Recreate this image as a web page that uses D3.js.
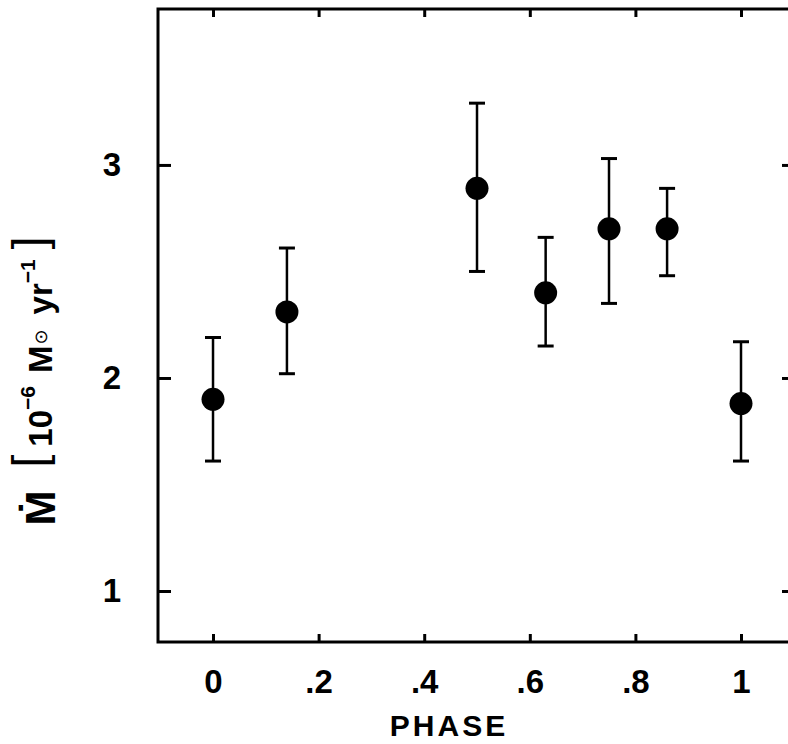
<!DOCTYPE html>
<html>
<head>
<meta charset="utf-8">
<script src="https://cdn.jsdelivr.net/npm/d3@7"></script>
<style>
  html, body { margin: 0; padding: 0; background: #fff; }
  svg { display: block; }
  text { font-family: "Liberation Sans", Arial, Helvetica, sans-serif; font-weight: bold; fill: #000; }
</style>
</head>
<body>
<script>
// ---- data ----
const phase  = [0, 0.14, 0.5, 0.63, 0.75, 0.86, 1.0];
const mdot   = [1.90, 2.31, 2.89, 2.40, 2.70, 2.70, 1.88];
const errHi  = [2.19, 2.61, 3.29, 2.66, 3.03, 2.89, 2.17];
const errLo  = [1.61, 2.02, 2.50, 2.15, 2.35, 2.48, 1.61];
const xTicks = [0, 0.2, 0.4, 0.6, 0.8, 1];
const xTickLabels = ["0", ".2", ".4", ".6", ".8", "1"];
const yTicks = [1, 2, 3];
const xTitle = "PHASE";

// ---- layout ----
const W = 788, H = 744;
const pLeft = 158, pRight = 790, pTop = 9, pBottom = 642;

const svg = d3.select("body").append("svg").attr("width", W).attr("height", H);

const x = d3.scaleLinear().domain([-0.1042, 1.0928]).range([pLeft, pRight]);
const y = d3.scaleLinear().domain([0.7606, 3.732]).range([pBottom, pTop]);

// frame
svg.append("rect")
  .attr("x", pLeft).attr("y", pTop)
  .attr("width", pRight - pLeft).attr("height", pBottom - pTop)
  .attr("fill", "none").attr("stroke", "#000").attr("stroke-width", 3);

function styleAxis(g) {
  g.attr("font-size", 33).attr("font-family", "'Liberation Sans', Arial, sans-serif");
  g.select(".domain").remove();
  g.selectAll(".tick line").attr("stroke", "#000").attr("stroke-width", 3);
  g.selectAll(".tick text").style("font-size", "33px").style("font-weight", "bold").attr("fill", "#000");
}

// bottom axis
svg.append("g").attr("transform", `translate(0,${pBottom})`)
  .call(d3.axisBottom(x).tickValues(xTicks)
    .tickFormat((d, i) => xTickLabels[i])
    .tickSizeInner(-8).tickSizeOuter(0).tickPadding(28))
  .call(styleAxis);

// top axis (ticks only)
svg.append("g").attr("transform", `translate(0,${pTop})`)
  .call(d3.axisTop(x).tickValues(xTicks).tickFormat("")
    .tickSizeInner(-8).tickSizeOuter(0))
  .call(styleAxis);

// left axis
svg.append("g").attr("transform", `translate(${pLeft},0)`)
  .call(d3.axisLeft(y).tickValues(yTicks).tickFormat(d3.format("d"))
    .tickSizeInner(-13).tickSizeOuter(0).tickPadding(37))
  .call(styleAxis);

// right axis (ticks only)
svg.append("g").attr("transform", `translate(${pRight},0)`)
  .call(d3.axisRight(y).tickValues(yTicks).tickFormat("")
    .tickSizeInner(-8).tickSizeOuter(0))
  .call(styleAxis);

// error bars
const capW = 8;
const pts = phase.map((p, i) => ({p, v: mdot[i], hi: errHi[i], lo: errLo[i]}));
const eb = svg.append("g");
eb.selectAll("line.v").data(pts).join("line").attr("class", "v")
  .attr("x1", d => x(d.p)).attr("x2", d => x(d.p))
  .attr("y1", d => y(d.hi)).attr("y2", d => y(d.lo))
  .attr("stroke", "#000").attr("stroke-width", 2.5);
eb.selectAll("line.hi").data(pts).join("line").attr("class", "hi")
  .attr("x1", d => x(d.p) - capW).attr("x2", d => x(d.p) + capW)
  .attr("y1", d => y(d.hi)).attr("y2", d => y(d.hi))
  .attr("stroke", "#000").attr("stroke-width", 3);
eb.selectAll("line.lo").data(pts).join("line").attr("class", "lo")
  .attr("x1", d => x(d.p) - capW).attr("x2", d => x(d.p) + capW)
  .attr("y1", d => y(d.lo)).attr("y2", d => y(d.lo))
  .attr("stroke", "#000").attr("stroke-width", 3);

// points
svg.append("g").selectAll("circle").data(pts).join("circle")
  .attr("cx", d => x(d.p)).attr("cy", d => y(d.v)).attr("r", 11.5).attr("fill", "#000");

// x title
svg.append("text")
  .attr("x", 449).attr("y", 736)
  .attr("text-anchor", "middle")
  .style("font-size", "30px").attr("letter-spacing", 3)
  .text(xTitle);

// y title: M-dot
svg.append("text")
  .attr("transform", "translate(55,508) rotate(-90)")
  .attr("text-anchor", "middle")
  .style("font-size", "42px")
  .text("Ṁ");

// y title: units
const ut = svg.append("text")
  .attr("transform", "translate(52,352) rotate(-90)")
  .attr("text-anchor", "middle")
  .style("font-size", "33px");
ut.append("tspan").style("font-size", "46px").style("font-weight", "normal").attr("dy", -7).text("[");
ut.append("tspan").attr("dy", 7).attr("dx", 8).text("10");
ut.append("tspan").style("font-size", "21px").attr("dy", -17).text("−6");
ut.append("tspan").attr("dy", 17).attr("dx", 13).text("M");
ut.append("tspan").style("font-size", "18px").style("font-weight", "normal").attr("dy", -5).attr("dx", 1)
  .style("font-family", "'DejaVu Sans', sans-serif").text("⊙");
ut.append("tspan").attr("dy", 5).attr("dx", 15).text("yr");
ut.append("tspan").style("font-size", "21px").attr("dy", -17).text("−1");
ut.append("tspan").style("font-size", "46px").style("font-weight", "normal").attr("dy", 10).attr("dx", 10).text("]");
</script>
</body>
</html>
